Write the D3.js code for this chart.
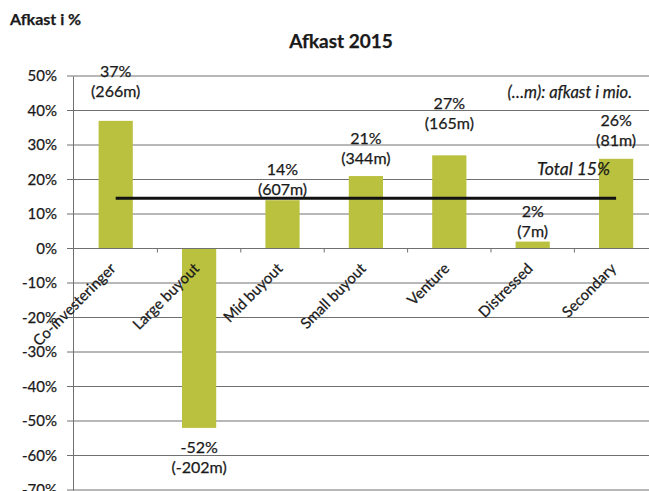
<!DOCTYPE html>
<html>
<head>
<meta charset="utf-8">
<script src="https://cdn.jsdelivr.net/npm/d3@7"></script>
<style>
  body { margin: 0; background: #fff; }
  svg { display: block; font-family: Lato, "Open Sans", sans-serif; }
  svg text { stroke: #1a1a1a; stroke-width: 0.25px; }
</style>
</head>
<body>
<div id="chart"></div>
<script>
// données
const categories = ["Co-investeringer", "Large buyout", "Mid buyout", "Small buyout", "Venture", "Distressed", "Secondary"];
const afkast = [37, -52, 14, 21, 27, 2, 26];
const mio = [266, -202, 607, 344, 165, 7, 81];
// valeur (en %) où se trouve la 2e ligne de chaque étiquette
const labelAt = [44, -65.1, 15.6, 24.6, 34.7, 3.2, 29.8];
const yTicks = [50, 40, 30, 20, 10, 0, -10, -20, -30, -40, -50, -60, -70];
const total = 14.6;
const totalLabel = "Total 15%";

const W = 649, H = 491;
const svg = d3.select("#chart").append("svg")
  .attr("width", W).attr("height", H);

//------Echelles
const y = d3.scaleLinear().domain([-70, 50]).range([490, 76]);
const x = d3.scaleBand()
  .domain(categories)
  .range([74, 74 + 7 * 83.4])
  .paddingInner(0.59)
  .paddingOuter(0.295);
const step = x.step();
const cx = d => x(d) + x.bandwidth() / 2;

const textCol = "#1a1a1a";

//------Titres
svg.append("text")
  .attr("x", 10).attr("y", 25)
  .style("font-weight", "bold").style("font-size", "16px")
  .attr("fill", textCol)
  .text("Afkast i %");

svg.append("text")
  .attr("x", 341).attr("y", 48)
  .attr("text-anchor", "middle")
  .style("font-weight", "bold").style("font-size", "19px")
  .attr("fill", textCol)
  .text("Afkast 2015");

//------Grille + axe y
svg.append("g")
  .selectAll("line")
  .data(yTicks)
  .join("line")
  .attr("x1", 67).attr("x2", W)
  .attr("y1", d => y(d)).attr("y2", d => y(d))
  .attr("stroke", "#707070")
  .attr("stroke-width", 1);

const yAxis = svg.append("g")
  .attr("transform", "translate(73,0)")
  .call(d3.axisLeft(y).tickValues(yTicks).tickFormat(d => d + "%").tickSize(0).tickPadding(16));
yAxis.select(".domain").attr("stroke", "#707070");
yAxis.selectAll("text")
  .style("font-size", "15px")
  .style("font-family", "Lato, sans-serif")
  .attr("fill", textCol);

//------Barres
svg.append("g")
  .selectAll("rect")
  .data(categories)
  .join("rect")
  .attr("x", d => x(d))
  .attr("width", x.bandwidth())
  .attr("y", (d, i) => y(Math.max(0, afkast[i])))
  .attr("height", (d, i) => Math.abs(y(afkast[i]) - y(0)))
  .attr("fill", "#b9c13f");

//------Axe x (ligne du zéro)
const xAxis = svg.append("g")
  .attr("transform", `translate(0,${y(0)})`);
xAxis.append("line")
  .attr("x1", 73).attr("x2", W)
  .attr("stroke", "#707070");
xAxis.selectAll(".tk")
  .data(categories)
  .join("line")
  .attr("class", "tk")
  .attr("x1", d => cx(d) + step / 2)
  .attr("x2", d => cx(d) + step / 2)
  .attr("y1", 0).attr("y2", 4)
  .attr("stroke", "#707070");

xAxis.selectAll(".cat")
  .data(categories)
  .join("text")
  .attr("class", "cat")
  .attr("text-anchor", "end")
  .attr("transform", d => `translate(${cx(d) + 1},${21}) rotate(-45)`)
  .style("font-size", "15px")
  .attr("fill", textCol)
  .text(d => d);

//------Ligne du total
svg.append("line")
  .attr("x1", cx(categories[0]))
  .attr("x2", cx(categories[categories.length - 1]))
  .attr("y1", y(total)).attr("y2", y(total))
  .attr("stroke", "#111")
  .attr("stroke-width", 3);

svg.append("text")
  .attr("x", 610).attr("y", 175)
  .attr("text-anchor", "end")
  .style("font-style", "italic").style("font-size", "17.5px")
  .attr("fill", textCol)
  .text(totalLabel);

svg.append("text")
  .attr("x", 632).attr("y", 98)
  .attr("text-anchor", "end")
  .style("font-style", "italic").style("font-size", "16.5px")
  .attr("fill", textCol)
  .text("(…m): afkast i mio.");

//------Etiquettes des barres
const lab = svg.append("g")
  .selectAll("g")
  .data(categories)
  .join("g")
  .attr("transform", (d, i) => `translate(${cx(d)},${y(labelAt[i])})`);
lab.append("text")
  .attr("y", -20)
  .attr("text-anchor", "middle")
  .style("font-size", "16px")
  .attr("fill", textCol)
  .text((d, i) => afkast[i] + "%");
lab.append("text")
  .attr("text-anchor", "middle")
  .style("font-size", "16px")
  .attr("fill", textCol)
  .text((d, i) => `(${mio[i]}m)`);
</script>
</body>
</html>
